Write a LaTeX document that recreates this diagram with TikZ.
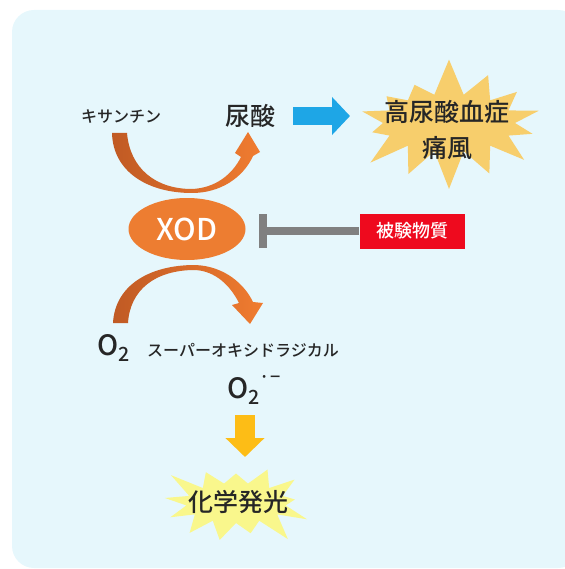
\documentclass[tikz,border=0pt]{standalone}
\usepackage{fontspec}
\IfFontExistsTF{Noto Sans CJK JP Medium}
    {\setmainfont{Noto Sans CJK JP Medium}}
    {\setmainfont{Noto Sans CJK JP}}
\usetikzlibrary{shapes.symbols,shapes.geometric,arrows.meta}

\definecolor{bgcyan}{HTML}{E6F7FC}
\definecolor{xodorange}{HTML}{ED7D31}
\definecolor{curvedark}{HTML}{C05A24}
\definecolor{curvelight}{HTML}{F07C30}
\definecolor{arrowblue}{HTML}{1EA6E6}
\definecolor{goldstar}{HTML}{F7CE6C}
\definecolor{lightstar}{HTML}{F9F78C}
\definecolor{inhgray}{HTML}{808080}
\definecolor{drugred}{HTML}{EE0A1E}
\definecolor{downgold}{HTML}{FDBD16}
\definecolor{textdark}{HTML}{262626}

\tikzset{
    jp/.style={font=\fontsize{#1}{#1}\selectfont, inner sep=0pt, text=textdark},
    curvearrow/.style={left color=curvedark, right color=curvelight, draw=none},
    starbox/.style={starburst, inner sep=0pt, draw=none, align=center},
}

\begin{document}
\begin{tikzpicture}[x=1pt, y=-1pt]
        \useasboundingbox (0, 0) rectangle (564, 569);
        \fill[bgcyan, rounded corners=22pt](12, 10) rectangle (580, 568);

        % texts
        \node[jp=16] (xan) at(121, 117){キサンチン};
        \node[jp=25] (uric) at(250, 116){尿酸};
        \node[jp=28] (o2) at(114, 348){O\textsubscript{2}};
        \node[jp=16] (rad) at(243, 350){スーパーオキシドラジカル};
        \node[jp=28, anchor=west] (sup) at(227, 391){O\textsubscript{2}\raisebox{0.55em}[0.4em][0pt]{\fontsize{18}{18}\selectfont ·−}};

        % stars
        \node[starbox, fill=goldstar, random starburst=7, starburst points=14,
              starburst point height=38pt, minimum width=208pt, minimum height=134pt]
              (gout) at(449, 123){};
        \node[jp=25, align=center] at(447, 130){高尿酸血症\\[11pt]痛風};
        \node[starbox, fill=lightstar, random starburst=3, starburst points=13,
              starburst point height=30pt, minimum width=160pt, minimum height=100pt]
              (chem) at(236, 503){};
        \node[jp=25] at(238, 502){化学発光};

        % enzyme and test substance
        \node[ellipse, fill=xodorange, minimum width=117pt, minimum height=62pt, inner sep=0pt,
              text=white, font=\fontsize{30}{30}\selectfont] (xod) at(187, 229){XOD};
        \node[fill=drugred, minimum width=105pt, minimum height=35pt, inner sep=0pt,
              text=white, font=\fontsize{18}{18}\selectfont] (drug) at(412, 231){被験物質};

        % curved arrows
        \path[curvearrow](112, 133) .. controls (113, 172) and (148, 193) .. (192, 193)
            .. controls (220, 193) and (243, 178) .. (253, 156) -- (260, 152) -- (248, 132)
            -- (235, 153) -- (241, 157) .. controls (232, 175) and (215, 188) .. (192, 189)
            .. controls (155, 189) and (130, 168) .. (127, 133) -- cycle;
        \path[curvearrow](113, 323) .. controls (115, 285) and (150, 265) .. (195, 265)
            .. controls (225, 266) and (245, 285) .. (253, 302) -- (263, 303) -- (250, 324)
            -- (232, 305) -- (239, 303) .. controls (230, 285) and (215, 271) .. (195, 270)
            .. controls (155, 270) and (130, 290) .. (128, 323) -- cycle;

        % block arrows
        \draw[arrowblue, line width=18pt, -{Triangle[length=18pt, width=37pt]},
              shorten <=43pt, shorten >=99pt](uric.center) to (uric.center -| gout.center);
        \draw[inhgray, line width=7.5pt, -{Bar[width=34pt]},
              shorten <=53pt, shorten >=72pt](drug.center) to (drug.center -| xod.center);
        \draw[downgold, line width=20pt, -{Triangle[length=19pt, width=38pt]},
              shorten <=24pt, shorten >=46pt]([xshift=18pt]sup.west) to ([xshift=18pt]sup.west |- chem.center);
    \end{tikzpicture}
\end{document}
